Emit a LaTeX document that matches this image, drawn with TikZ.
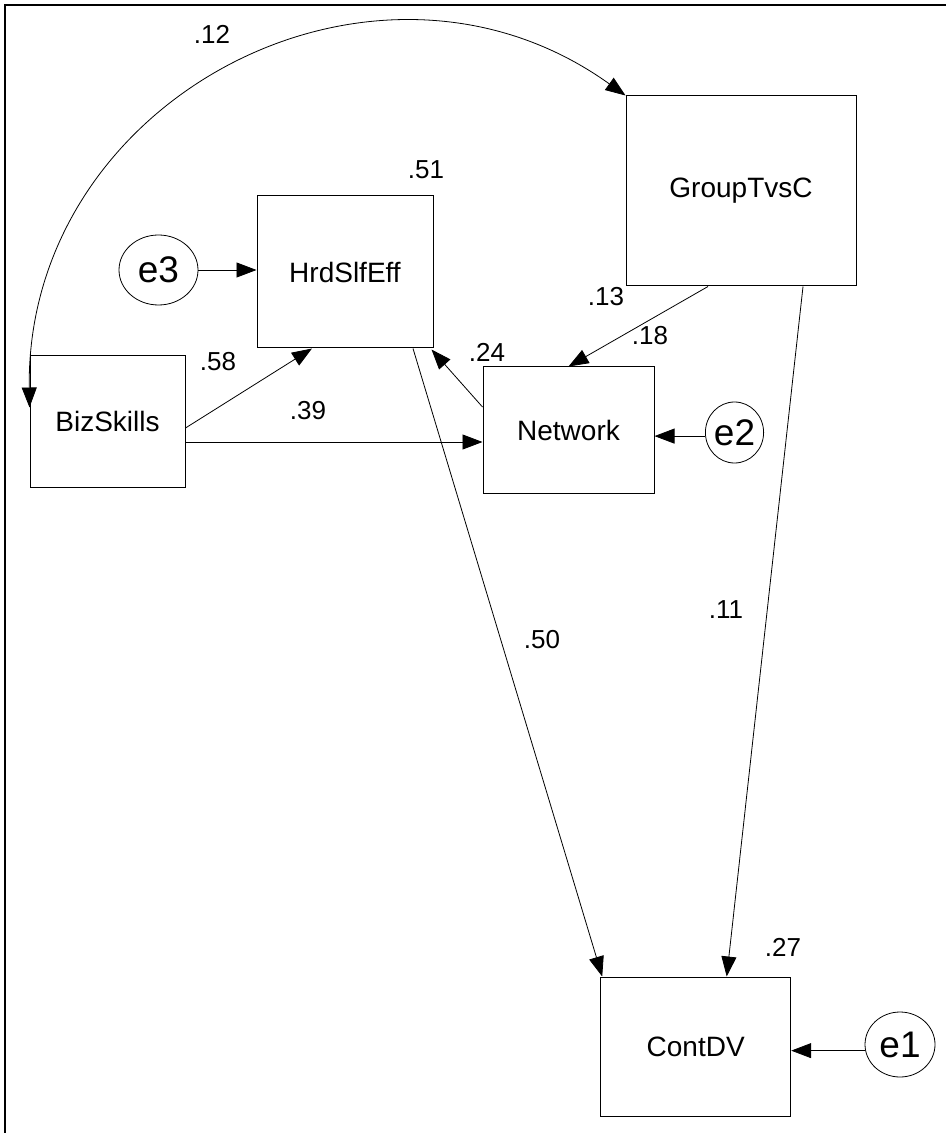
\documentclass[tikz,border=0pt]{standalone}
\usepackage{fontspec}
\setmainfont{Liberation Sans}
\usetikzlibrary{arrows.meta,calc,shapes.geometric}

\begin{document}
\begin{tikzpicture}[x=0.5pt,y=-0.5pt,>={Triangle[length=10pt,width=7.5pt]},
  var/.style={draw,line width=0.5pt,inner sep=0pt,font=\fontsize{14}{16}\selectfont},
  err/.style={draw,ellipse,line width=0.4pt,inner sep=0pt,font=\fontsize{18.5}{20}\selectfont},
  coef/.style={inner sep=0pt,font=\fontsize{13}{15}\selectfont},
  regline/.style={->,line width=0.4pt}]
  \useasboundingbox (0,0) rectangle (946,1133);
  \draw[line width=1pt] (5,1133) -- (5,5.5) -- (946,5.5);
  \node[var,minimum width=115pt,minimum height=95pt] (grp) at (741,191) {GroupTvsC};
  \node[var,minimum width=88pt,minimum height=76pt] (hrd) at (345,272) {HrdSlfEff};
  \node[var,minimum width=77.5pt,minimum height=65.5pt] (biz) at (107.5,421.5) {BizSkills};
  \node[var,minimum width=85.5pt,minimum height=63pt] (net) at (568.5,430) {Network};
  \node[var,minimum width=95pt,minimum height=69.5pt] (dv) at (695.7,1046.5) {ContDV};
  \node[err,minimum width=39.5pt,minimum height=35pt] (e3) at (158.5,270) {e3};
  \node[err,minimum width=27.5pt,minimum height=30.5pt] (e2) at (734.5,432.5) {e2};
  \node[err,minimum width=35pt,minimum height=32.5pt] (e1) at (900,1044.5) {e1};
  \draw[regline,<->] (grp.north west) .. controls +(-251,-180) and +(-4,-309) .. ($(biz.west)+(0,-14)$);
  \draw[regline] (e3.east) -- (e3.east -| hrd.west);
  \draw[regline] ($(biz.east)+(0,6.5)$) -- ($(hrd.south)+(-33,0)$);
  \draw[regline] ($(biz.east)+(0,20.5)$) coordinate (b2) -- (b2 -| net.west);
  \draw[regline] ($(net.west)+(0,-23)$) -- ($(hrd.south east)+(-2,1)$);
  \draw[regline] ($(grp.south)+(-33,0)$) -- (net.north);
  \draw[regline] (e2.187) -- (e2.187 -| net.east);
  \draw[regline] ($(hrd.south)+(68,0)$) -- ($(dv.north west)+(2,0)$);
  \draw[regline] ($(grp.south)+(62,0)$) -- ($(dv.north)+(31,0)$);
  \draw[regline] (e1.190) -- (e1.190 -| dv.east);
  \node[coef] (c12) at (212,34) {.12};
  \node[coef] (c51) at (426,170) {.51};
  \node[coef] (c58) at (218,362) {.58};
  \node[coef] (c39) at (308,411) {.39};
  \node[coef] (c24) at (487,352) {.24};
  \node[coef] (c13) at (606,297) {.13};
  \node[coef] (c18) at (650,336) {.18};
  \node[coef] (c50) at (542,640) {.50};
  \node[coef] (c11) at (726,610) {.11};
  \node[coef] (c27) at (783,947) {.27};
\end{tikzpicture}
\end{document}
